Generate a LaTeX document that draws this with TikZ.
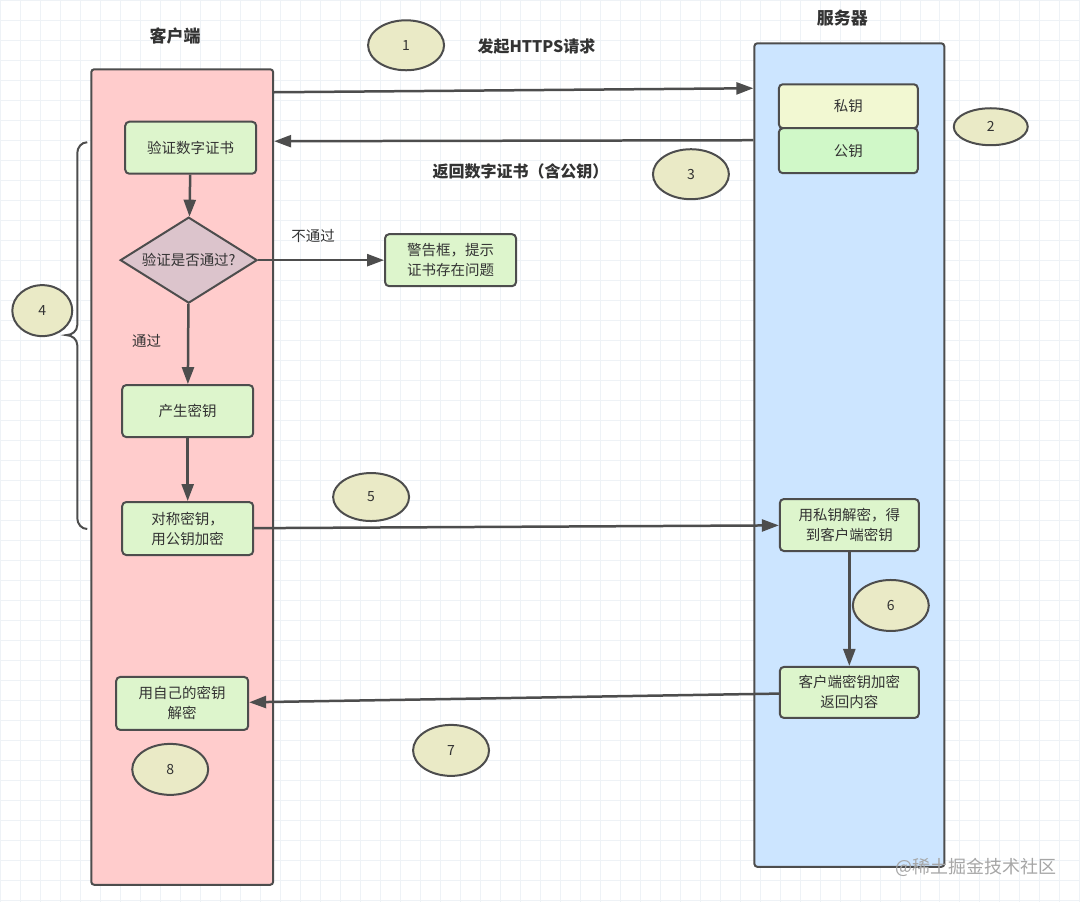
\documentclass[tikz,border=0pt]{standalone}
\usepackage{fontspec}
\setmainfont{Noto Sans CJK SC}
\usetikzlibrary{shapes.geometric,arrows.meta}

\begin{document}
\begin{tikzpicture}[x=1pt,y=-1pt][>=stealth]

	% Colours
	\definecolor{clientcolor}{HTML}{FFCCCC}
	\definecolor{servercolor}{HTML}{CCE5FF}
	\definecolor{stepcolor}{HTML}{DDF5CC}
	\definecolor{privcolor}{HTML}{F2F8D2}
	\definecolor{pubcolor}{HTML}{D0F8C8}
	\definecolor{checkcolor}{HTML}{DCC4CC}
	\definecolor{badgecolor}{HTML}{EAEAC6}
	\definecolor{linecolor}{HTML}{4D4D4D}
	\definecolor{textcolor}{HTML}{333333}
	\definecolor{gridcolor}{HTML}{EEF2F6}

	% Styles
	\tikzstyle{lane}=[draw=linecolor, line width=2pt, rounded corners=3pt, inner sep=0pt]
	\tikzstyle{title}=[text=textcolor, font=\bfseries\fontsize{17}{20}\selectfont]
	\tikzstyle{stepbox}=[draw=linecolor, fill=stepcolor, line width=2pt, rounded corners=4pt,
		text=textcolor, font=\fontsize{14.5}{20}\selectfont, align=center, inner sep=0pt,
		minimum width=131, minimum height=52]
	\tikzstyle{check}=[diamond, aspect=1.6, draw=linecolor, fill=checkcolor, line width=2pt, inner sep=0pt,
		text=textcolor, font=\fontsize{14.5}{18}\selectfont, minimum width=137, minimum height=86]
	\tikzstyle{badge}=[ellipse, draw=linecolor, fill=badgecolor, line width=2pt, inner sep=0pt,
		text=textcolor, font=\fontsize{14}{16}\selectfont, minimum width=76, minimum height=50]
	\tikzstyle{note}=[text=textcolor, font=\fontsize{14.5}{18}\selectfont]
	\tikzstyle{flow}=[-{Triangle[length=17pt,width=12pt]}, draw=linecolor, line width=2.5pt]

	% Background grid
	\draw[gridcolor, line width=0.6pt, step=20pt] (0,0) grid (1080,902);
	\useasboundingbox (0,0) rectangle (1080,902);

	% Lanes
	\node[lane, fill=clientcolor, minimum width=182, minimum height=816] (client) at (182,477) {};
	\node[lane, fill=servercolor, minimum width=190, minimum height=824] (server) at (849.5,455) {};
	\node[title] (clienttitle) at (175,36) {客户端};
	\node[title] (servertitle) at (842.5,18) {服务器};

	% Server keys
	\node[stepbox, fill=privcolor, minimum width=139, minimum height=44] (privkey) at (848.5,106) {私钥};
	\node[stepbox, fill=pubcolor, minimum width=139, minimum height=45] (pubkey) at (848.5,150.5) {公钥};

	% Client steps
	\node[stepbox] (verify) at (190.5,147.5) {验证数字证书};
	\node[check] (check) at (188.5,260) {验证是否通过?};
	\node[stepbox] (warn) at (450.5,260) {警告框，提示\\证书存在问题};
	\node[stepbox] (genkey) at (187.5,411) {产生密钥};
	\node[stepbox, minimum height=53] (encrypt) at (187.5,528.5) {对称密钥，\\用公钥加密};
	\node[stepbox, minimum width=132, minimum height=53] (own) at (182,703.5) {用自己的密钥\\解密};

	% Server steps
	\node[stepbox, minimum width=139] (decrypt) at (849.5,525) {用私钥解密，得\\到客户端密钥};
	\node[stepbox, minimum width=139, minimum height=51] (reply) at (849.5,692.5) {客户端密钥加密\\返回内容};

	% Step numbers
	\node[badge] (n1) at (406,45) {1};
	\node[badge, minimum width=74, minimum height=37] (n2) at (991,126.5) {2};
	\node[badge] (n3) at (691,174) {3};
	\node[badge, minimum width=60, minimum height=51] (n4) at (42,310.5) {4};
	\node[badge, minimum height=48] (n5) at (371,497) {5};
	\node[badge, minimum height=51] (n6) at (891,605.5) {6};
	\node[badge, minimum height=51] (n7) at (451,750.5) {7};
	\node[badge, minimum height=51] (n8) at (170,769.5) {8};

	% Labels
	\node[title, font=\bfseries\fontsize{16}{20}\selectfont] (reqlabel) at (536.5,46) {发起HTTPS请求};
	\node[title, font=\bfseries\fontsize{16}{20}\selectfont] (certlabel) at (520.5,171) {返回数字证书（含公钥）};
	\node[note] (faillabel) at (313,236) {不通过};
	\node[note] (passlabel) at (146.5,341) {通过};

	% Messages
	\coordinate (reqfrom) at (client.east |- 0,92);
	\coordinate (reqto) at (server.west |- 0,88);
	\coordinate (certfrom) at (server.west |- 0,140);
	\coordinate (certto) at (client.east |- 0,141);
	\draw[flow] (reqfrom) -- (reqto);
	\draw[flow] (certfrom) -- (certto);
	\draw[flow] (verify) -- (check);
	\draw[flow] (check) -- (warn);
	\draw[flow] (check) -- (genkey);
	\draw[flow] (genkey) -- (encrypt);
	\draw[flow] (encrypt) -- (decrypt);
	\draw[flow] (decrypt) -- (reply);
	\draw[flow] (reply) -- (own);

	% Brace round step 4
	\draw[linecolor, line width=2pt] (87,142) to[out=180,in=90] (77,153) -- (77,325)
		to[out=-90,in=0] (66,335) to[out=0,in=90] (77,345) -- (77,518) to[out=-90,in=180] (87,529);

	% Watermark
	\node[text=gray!70, font=\fontsize{18}{20}\selectfont] (mark) at (976,868) {@稀土掘金技术社区};

\end{tikzpicture}
\end{document}
